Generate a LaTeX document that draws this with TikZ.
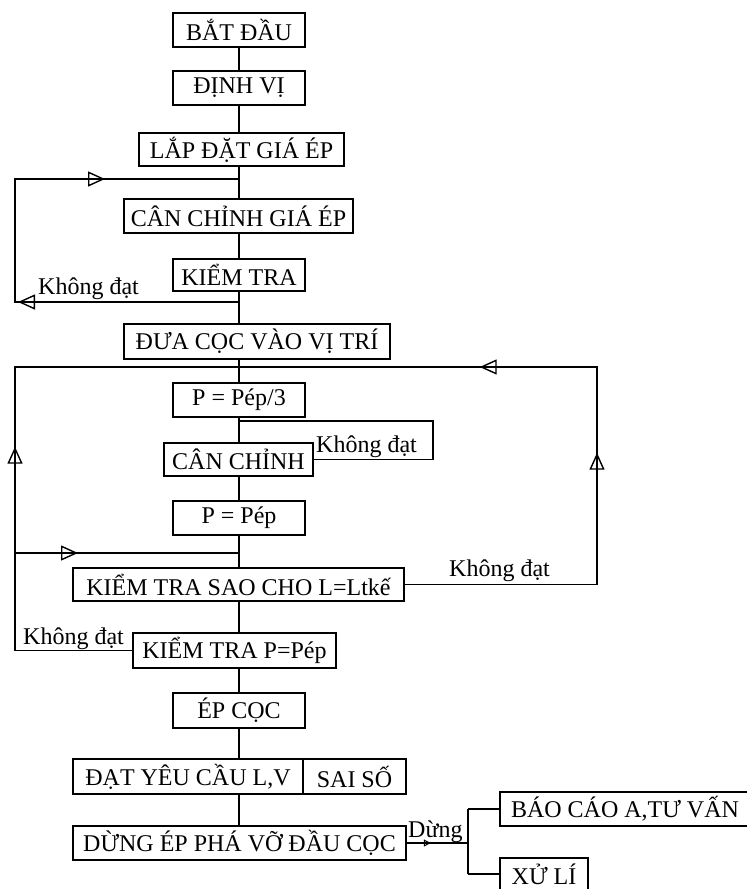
\documentclass[tikz,border=0pt]{standalone}
\usepackage{fontspec}
\setmainfont{Liberation Serif}
\usetikzlibrary{arrows.meta, positioning, decorations.markings}
\newcommand{\fs}{\fontsize{24}{26}\selectfont}
\tikzset{
  box/.style  = {draw, line width=1.6pt, inner sep=0pt, align=center, font=\fs},
  lbl/.style  = {inner sep=0pt, font=\fs},
  wire/.style = {line width=1.6pt},
  tri/.style  = {postaction={decorate, decoration={markings,
                 mark=at position #1 with {\arrow{Triangle[open, length=17pt, width=15pt, line width=1.4pt]}}}}},
  trismall/.style = {postaction={decorate, decoration={markings,
                 mark=at position #1 with {\arrow{Triangle[open, length=7pt, width=7pt, line width=1pt]}}}}},
}

\begin{document}
\begin{tikzpicture}[x=1pt, y=-1pt]
  \useasboundingbox (0,0) rectangle (747,889);
  % main column
  \node[box, minimum width=132pt, minimum height=34pt] (batdau) at (239,30) {BẮT ĐẦU};
  \node[box, minimum width=132pt, minimum height=34pt] (dinhvi) at (239,88) {ĐỊNH VỊ};
  \node[box, minimum width=205pt, minimum height=33pt] (lapdat) at (241.5,149.5) {LẮP ĐẶT GIÁ ÉP};
  \node[box, minimum width=229pt, minimum height=34pt] (canchinhgia) at (238.5,216) {CÂN CHỈNH GIÁ ÉP};
  \node[box, minimum width=132pt, minimum height=32pt] (kiemtra) at (239,275) {KIỂM TRA};
  \node[box, minimum width=266pt, minimum height=35pt] (duacoc) at (257,341.5) {ĐƯA CỌC VÀO VỊ TRÍ};
  \node[box, minimum width=132pt, minimum height=34pt] (pep3) at (239,400) {P = Pép/3};
  \node[box, minimum width=149pt, minimum height=33pt] (canchinh) at (238.5,459.5) {CÂN CHỈNH};
  \node[box, minimum width=132pt, minimum height=34pt] (pep) at (239,518) {P = Pép};
  \node[box, minimum width=331pt, minimum height=33pt] (kiemtraL) at (238.5,584.5) {KIỂM TRA SAO CHO L=Ltkế};
  \node[box, minimum width=203pt, minimum height=35pt] (kiemtraP) at (234.5,650.5) {KIỂM TRA P=Pép};
  \node[box, minimum width=132pt, minimum height=35pt] (epcoc) at (239,710.5) {ÉP CỌC};
  \node[box, minimum width=230pt, minimum height=35pt] (datyc) at (188,776.5) {ĐẠT YÊU CẦU L,V};
  \node[box, minimum width=103pt, minimum height=35pt] (saiso) at (354.5,776.5) {SAI SỐ};
  \node[box, minimum width=333pt, minimum height=34pt] (dungep) at (239.5,843) {DỪNG ÉP PHÁ VỠ ĐẦU CỌC};
  \node[box, minimum width=250pt, minimum height=34pt] (baocao) at (625,809) {BÁO CÁO A,TƯ VẤN};
  \node[box, minimum width=88pt, minimum height=32pt] (xuli) at (544,874) {XỬ LÍ};

  % spine and turning points
  \coordinate (sp) at (239,0);
  \coordinate (lx) at (15,0);
  \coordinate (rx) at (597,0);
  \coordinate (kx) at (433,0);
  \coordinate (bx) at (468,0);
  \coordinate (j0) at (239,179);
  \coordinate (j1) at (239,302);
  \coordinate (j2) at (239,367);
  \coordinate (j3) at (239,421);
  \coordinate (j4) at (239,553);

  \foreach \a/\b in {batdau/dinhvi, dinhvi/lapdat, lapdat/canchinhgia, canchinhgia/kiemtra,
                     kiemtra/duacoc, duacoc/pep3, pep3/canchinh, canchinh/pep, pep/kiemtraL,
                     kiemtraL/kiemtraP, kiemtraP/epcoc, epcoc/datyc, datyc/dungep} {
    \draw[wire] (sp |- \a.south) -- (sp |- \b.north);
  }

  % loops back
  \draw[wire, tri=221pt, tri=437pt] (j1) -- (j1 -| lx) -- (j0 -| lx) -- (j0);
  \node[lbl, anchor=base west] (kd1) at (38,294) {Không đạt};

  \draw[wire, tri=321pt] (kiemtraP.west) -- (kiemtraP.west -| lx) -- (j2 -| lx) -- (j2);
  \draw[wire, tri=63pt] (j4 -| lx) -- (j4);
  \node[lbl, anchor=base west] (kd2) at (23,644) {Không đạt};

  \draw[wire, tri=324pt, tri=527pt] (kiemtraL.east) -- (kiemtraL.east -| rx) -- (j2 -| rx) -- (j2);
  \node[lbl, anchor=base west] (kd3) at (449,576) {Không đạt};

  \draw[wire] (j3) -- (j3 -| kx) -- (canchinh.east -| kx) -- (canchinh.east);
  \node[lbl, anchor=base west] (kd4) at (316,452) {Không đạt};

  % end branch
  \draw[wire, trismall=24pt] (dungep.east) -- (dungep.east -| bx);
  \draw[wire] (baocao.west -| bx) -- (xuli.west -| bx);
  \draw[wire] (baocao.west -| bx) -- (baocao.west);
  \draw[wire] (xuli.west -| bx) -- (xuli.west);
  \node[lbl, anchor=base west] (dung) at (408,837) {Dừng};
\end{tikzpicture}
\end{document}
